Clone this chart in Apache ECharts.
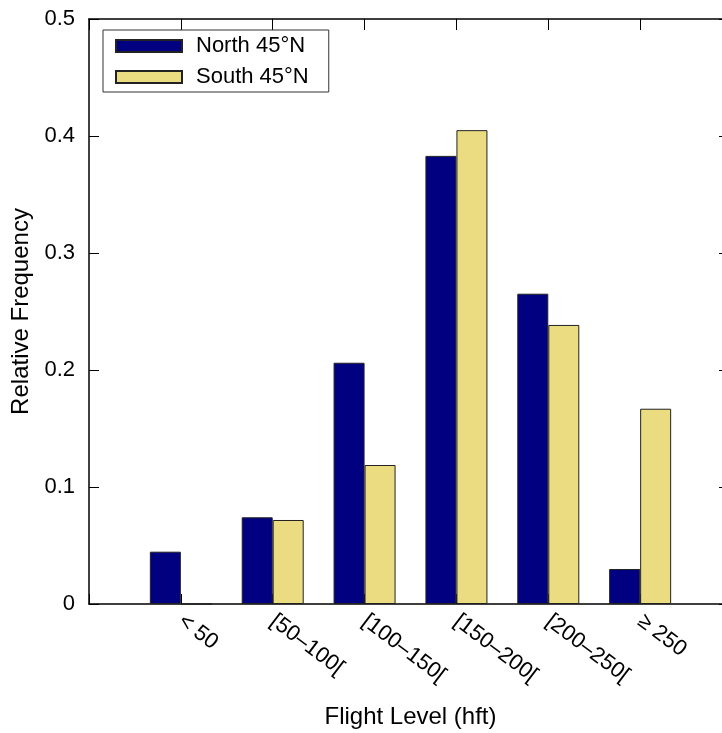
<!DOCTYPE html>
<html>
<head>
<meta charset="utf-8">
<script src="https://cdn.jsdelivr.net/npm/echarts@6/dist/echarts.min.js"></script>
<style>html,body{margin:0;padding:0;background:#fff}#c{width:722px;height:733px}</style>
</head>
<body>
<div id="c"></div>
<script>
var categories = ['', '< 50', '[50–100[', '[100–150[', '[150–200[', '[200–250[', '≥ 250', ''];
var northValues = [null, 0.0447, 0.0741, 0.2062, 0.383, 0.2652, 0.0299, null];
var southValues = [null, 0, 0.0718, 0.1188, 0.405, 0.2385, 0.1669, null];
var seriesNames = ['North 45°N', 'South 45°N'];
var yTicks = [0, 0.1, 0.2, 0.3, 0.4, 0.5];

var FONT = 'Liberation Sans';
var chart = echarts.init(document.getElementById('c'), null, {renderer: 'canvas'});
var axisLineStyle = {color: '#000', width: 1.5};
chart.setOption({
  animation: false,
  backgroundColor: '#fff',
  textStyle: {fontFamily: FONT},
  grid: {left: 89, top: 19, width: 643, height: 585, containLabel: false, outerBoundsMode: 'none'},
  legend: {
    orient: 'vertical', left: 103, top: 30,
    padding: [5, 20, 4, 12],
    itemWidth: 66, itemHeight: 12, itemGap: 9,
    icon: 'rect',
    borderColor: '#333', borderWidth: 1, backgroundColor: '#fff',
    textStyle: {fontFamily: FONT, fontSize: 22, color: '#000', lineHeight: 22, padding: [0, 0, 0, 9]},
    data: seriesNames
  },
  xAxis: [{
    type: 'category', data: categories, boundaryGap: false, position: 'bottom',
    name: 'Flight Level (hft)', nameLocation: 'middle', nameGap: 101, nameMoveOverlap: false,
    nameTextStyle: {fontFamily: FONT, fontSize: 24, color: '#000'},
    axisLine: {onZero: false, lineStyle: axisLineStyle},
    axisTick: {show: true, inside: true, length: 10, lineStyle: {color: '#000'}, interval: 0},
    axisLabel: {interval: 0, rotate: -37, margin: 15, fontFamily: FONT, fontSize: 22, color: '#000', hideOverlap: false},
    splitLine: {show: false}
  }, {
    type: 'category', data: categories, boundaryGap: false, position: 'top',
    axisLine: {onZero: false, lineStyle: axisLineStyle},
    axisTick: {inside: true, length: 11, lineStyle: {color: '#000'}, interval: 0},
    axisLabel: {show: false}, splitLine: {show: false}
  }],
  yAxis: [{
    type: 'value', min: 0, max: 0.5, interval: 0.1, position: 'left',
    name: 'Relative Frequency', nameLocation: 'middle', nameGap: 56, nameMoveOverlap: false,
    nameTextStyle: {fontFamily: FONT, fontSize: 24, color: '#000'},
    axisLine: {show: true, onZero: false, lineStyle: axisLineStyle},
    axisTick: {show: true, inside: true, length: 10, lineStyle: {color: '#000'}},
    axisLabel: {margin: 14, fontFamily: FONT, fontSize: 22, color: '#000',
      formatter: function (v) { return v === 0 ? '0' : v.toFixed(1); }},
    splitLine: {show: false}
  }, {
    type: 'value', min: 0, max: 0.5, interval: 0.1, position: 'right',
    axisLine: {show: true, onZero: false, lineStyle: axisLineStyle},
    axisTick: {show: true, inside: true, length: 13, lineStyle: {color: '#000'}},
    axisLabel: {show: false}, splitLine: {show: false}
  }],
  series: [{
    name: seriesNames[0], type: 'bar', data: northValues, barWidth: 31, barGap: '0%',
    itemStyle: {color: '#000080', borderColor: '#222', borderWidth: 1}
  }, {
    name: seriesNames[1], type: 'bar', data: southValues, barWidth: 31, barGap: '0%',
    itemStyle: {color: '#ebdc82', borderColor: '#222', borderWidth: 1}
  }]
});
</script>
</body>
</html>
